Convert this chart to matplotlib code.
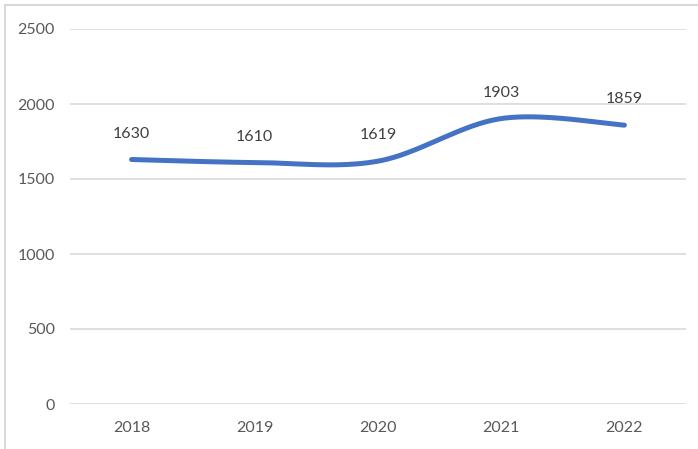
import numpy as np
import matplotlib
matplotlib.use("Agg")
import matplotlib.pyplot as plt
from matplotlib.patches import Rectangle

years = ["2018", "2019", "2020", "2021", "2022"]
values = [1630, 1610, 1619, 1903, 1859]
yticks = [0, 500, 1000, 1500, 2000, 2500]

plt.rcParams['font.family'] = ['Lato', 'DejaVu Sans']

fig = plt.figure(figsize=(6.98, 4.49), dpi=100)
W, H = 698, 449
ax = fig.add_axes([70 / W, 1 - 404 / H, (686 - 70) / W, (404 - 29) / H])

x = np.arange(len(values), dtype=float)
y = np.array(values, dtype=float)

# Catmull-Rom style smoothing (like Excel smoothed line)
px = np.concatenate([[x[0]], x, [x[-1]]])
py = np.concatenate([[y[0]], y, [y[-1]]])
xs, ys = [], []
for i in range(1, len(px) - 2):
    p0, p1, p2, p3 = (np.array([px[j], py[j]]) for j in range(i - 1, i + 3))
    c1 = p1 + (p2 - p0) / 6
    c2 = p2 - (p3 - p1) / 6
    t = np.linspace(0, 1, 40)[:, None]
    b = (1 - t) ** 3 * p1 + 3 * (1 - t) ** 2 * t * c1 + 3 * (1 - t) * t ** 2 * c2 + t ** 3 * p2
    xs.extend(b[:, 0]); ys.extend(b[:, 1])

ax.plot(xs, ys, color="#4472C4", lw=3.6, solid_capstyle="round", zorder=3)

for xi, yi in zip(x, y):
    ax.annotate(str(int(yi)), (xi, yi), xytext=(0, 18.5), textcoords="offset points",
                ha="center", va="center", fontsize=11.5, color="#404040")

ax.set_xlim(-0.5, len(values) - 0.5)
ax.set_ylim(0, 2500)
ax.set_yticks(yticks)
ax.set_yticklabels([str(v) for v in yticks])
ax.set_xticks(x)
ax.set_xticklabels(years)
ax.grid(axis="y", color="#D9D9D9", lw=1.2)
ax.set_axisbelow(True)
for s in ax.spines.values():
    s.set_visible(False)
ax.tick_params(axis="both", length=0, labelsize=11.5, labelcolor="#595959")
ax.tick_params(axis="y", pad=11)
ax.tick_params(axis="x", pad=12)

fig.patches.append(Rectangle((5 / W, -0.1), 1.2, 1 - 5 / H + 0.1, transform=fig.transFigure,
                             fill=False, edgecolor="#D9D9D9", lw=1.5))

fig.savefig("out.png", dpi=100)
